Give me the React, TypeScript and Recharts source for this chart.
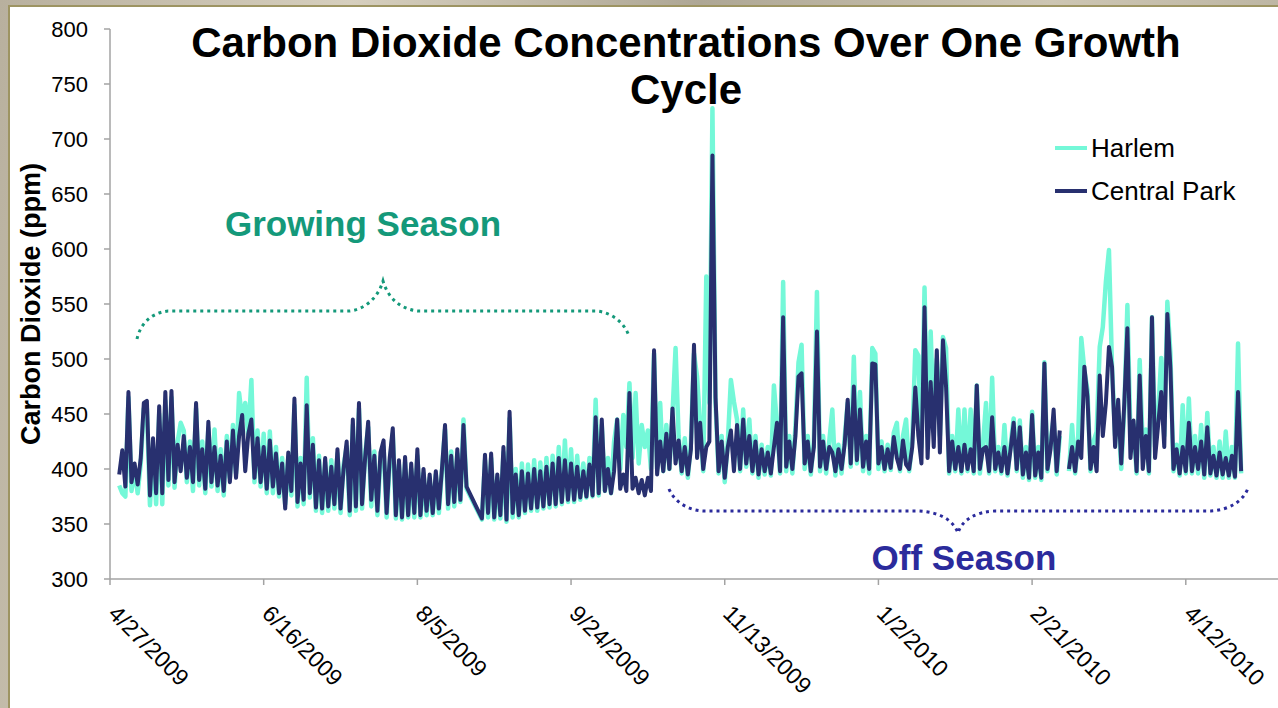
import React from "react";
import { LineChart, Line, XAxis, YAxis, Legend } from "recharts";

// Day index 0 = 4/27/2009 ; data runs daily from day 3 (4/30/2009) to day 368
const FIRST_DAY = 3;
const xTickDays = [0, 50, 100, 150, 200, 250, 300, 350];
const xTickLabels = ["4/27/2009", "6/16/2009", "8/5/2009", "9/24/2009", "11/13/2009", "1/2/2010", "2/21/2010", "4/12/2010"];
const yTicks = [300, 350, 400, 450, 500, 550, 600, 650, 700, 750, 800];
const legendOrder = ["Harlem", "Central Park"];
// days with no logged records (the line jumps straight across them)
const missingDays = [117, 118, 119, 120];

const centralPark: (number | null)[] = [
  395, 417, 384, 470, 388, 405, 386, 410, 460, 462,
  376, 428, 378, 457, 378, 470, 390, 471, 388, 422,
  398, 430, 392, 420, 388, 460, 390, 418, 382, 443,
  388, 420, 385, 412, 380, 425, 388, 435, 392, 430,
  449, 398, 432, 445, 392, 428, 388, 420, 382, 426,
  384, 414, 378, 405, 364, 415, 380, 464, 370, 405,
  372, 458, 378, 422, 365, 408, 364, 410, 366, 402,
  368, 418, 364, 400, 425, 362, 445, 366, 460, 368,
  410, 443, 372, 412, 362, 415, 426, 360, 410, 437,
  358, 408, 356, 411, 358, 405, 360, 418, 358, 400,
  362, 395, 360, 398, 364, 400, 440, 368, 412, 370,
  418, 372, 440, 384, null, null, null, null, 355, 413,
  360, 414, 356, 395, 358, 420, 354, 452, 360, 395,
  358, 398, 362, 396, 364, 400, 365, 398, 366, 402,
  368, 405, 368, 410, 370, 408, 372, 405, 372, 402,
  374, 398, 375, 404, 376, 447, 378, 445, 380, 400,
  378, 398, 445, 382, 395, 380, 469, 382, 392, 378,
  390, 376, 392, 380, 508, 395, 425, 398, 432, 400,
  455, 405, 426, 398, 420, 395, 418, 513, 410, 442,
  400, 420, 425, 685, 465, 398, 425, 392, 420, 435,
  398, 440, 400, 445, 405, 430, 398, 425, 395, 418,
  398, 415, 396, 420, 442, 398, 538, 402, 425, 400,
  430, 484, 487, 405, 425, 398, 420, 525, 402, 425,
  400, 420, 415, 398, 418, 400, 422, 463, 405, 475,
  408, 454, 402, 425, 400, 496, 495, 405, 420, 400,
  418, 401, 429, 410, 400, 426, 404, 400, 420, 474,
  430, 405, 547, 410, 479, 420, 508, 415, 517, 475,
  398, 425, 400, 420, 398, 422, 400, 418, 398, 476,
  400, 418, 420, 398, 447, 400, 415, 398, 420, 396,
  418, 442, 400, 438, 395, 415, 392, 449, 394, 415,
  392, 496, 400, 418, 454, 398, 435, null, null, 400,
  420, 398, 425, 410, 493, 466, 400, 420, 398, 485,
  430, 460, 511, 493, 420, 463, 405, 460, 528, 410,
  444, 398, 485, 400, 430, 398, 538, 410, 440, 470,
  420, 541, 492, 400, 418, 396, 420, 398, 442, 398,
  420, 400, 425, 395, 438, 396, 412, 394, 415, 395,
  410, 394, 412, 393, 470, 398,
];

const harlem: (number | null)[] = [
  385, 378, 375, 465, 380, 400, 378, 405, 455, 455,
  367, 420, 368, 450, 368, 462, 385, 465, 383, 425,
  442, 435, 388, 425, 380, 455, 385, 425, 378, 437,
  384, 436, 380, 418, 376, 430, 392, 440, 396, 469,
  445, 460, 430, 481, 388, 435, 384, 432, 378, 434,
  378, 420, 375, 410, 368, 410, 376, 458, 366, 410,
  368, 483, 374, 428, 362, 412, 360, 406, 362, 408,
  364, 414, 360, 404, 420, 358, 440, 362, 455, 364,
  414, 438, 366, 416, 358, 410, 420, 356, 405, 432,
  355, 404, 354, 406, 356, 400, 356, 412, 356, 396,
  358, 392, 358, 395, 360, 398, 436, 364, 416, 366,
  414, 370, 445, 382, null, null, null, null, 354, 408,
  356, 410, 354, 392, 355, 415, 352, 446, 356, 400,
  356, 405, 360, 404, 362, 408, 362, 406, 364, 410,
  365, 412, 366, 420, 368, 426, 370, 418, 370, 412,
  372, 405, 374, 410, 375, 463, 376, 440, 380, 410,
  378, 425, 445, 400, 449, 420, 478, 410, 469, 405,
  440, 420, 435, 400, 505, 400, 460, 398, 440, 400,
  450, 510, 430, 396, 428, 392, 424, 505, 484, 440,
  398, 575, 460, 728, 460, 396, 430, 388, 425, 481,
  461, 445, 398, 454, 402, 445, 396, 430, 392, 422,
  395, 420, 394, 476, 440, 396, 570, 398, 430, 396,
  438, 497, 513, 400, 430, 395, 425, 561, 398, 430,
  396, 425, 454, 394, 422, 396, 428, 460, 402, 502,
  405, 470, 398, 430, 396, 510, 505, 400, 425, 398,
  422, 399, 433, 442, 398, 430, 445, 398, 425, 508,
  503, 420, 565, 430, 525, 440, 500, 430, 520, 510,
  396, 430, 398, 454, 396, 454, 398, 454, 396, 476,
  396, 422, 460, 396, 483, 398, 420, 396, 440, 394,
  422, 446, 398, 444, 392, 420, 390, 452, 392, 420,
  390, 497, 398, 425, 446, 395, 430, null, null, 398,
  440, 396, 430, 519, 490, 472, 398, 425, 434, 511,
  529, 570, 599, 493, 430, 450, 400, 455, 549, 430,
  440, 396, 499, 420, 436, 396, 538, 420, 450, 501,
  430, 552, 505, 398, 422, 394, 458, 396, 464, 396,
  430, 396, 440, 392, 451, 394, 420, 392, 425, 392,
  434, 392, 420, 392, 514, 396,
];

const rows: { day: number; harlem: number | null; centralPark: number | null }[] = [];
for (let i = 0; i < centralPark.length; i++) {
  const day = FIRST_DAY + i;
  if (missingDays.includes(day)) continue;
  rows.push({ day, harlem: harlem[i], centralPark: centralPark[i] });
}

const FONT = "'Liberation Sans', Arial, Helvetica, sans-serif";
const HARLEM = "#74f8d8";
const CENTRAL = "#28306f";
const GREEN = "#14997a";
const NAVY = "#2b2b9c";
const AXIS = "#a3a3a3";

const XTick = (props: any) => {
  const { x, y, payload } = props;
  const idx = xTickDays.indexOf(payload.value);
  const label = idx >= 0 ? xTickLabels[idx] : String(payload.value);
  const px = x - 3;
  const py = y + 28;
  return (
    <text x={px} y={py} transform={`rotate(45 ${px} ${py})`} textAnchor="start" fontSize={23} fontFamily={FONT} fill="#000">
      {label}
    </text>
  );
};

const LegendContent = (props: any) => {
  const payload = [...(props.payload || [])].sort(
    (a: any, b: any) => legendOrder.indexOf(a.value) - legendOrder.indexOf(b.value)
  );
  return (
    <div style={{ fontFamily: FONT, fontSize: 26, color: "#000" }}>
      {payload.map((p: any, i: number) => (
        <div key={i} style={{ display: "flex", alignItems: "center", height: 43 }}>
          <div style={{ width: 32, height: 4, background: p.color, marginRight: 4 }} />
          <span style={{ lineHeight: "26px" }}>{p.value}</span>
        </div>
      ))}
    </div>
  );
};

export default function App() {
  return (
    <div
      style={{
        position: "absolute",
        left: 0,
        top: 0,
        width: 1278,
        height: 708,
        overflow: "hidden",
        background: "linear-gradient(100deg, #b8b09e 0%, #d6cfbe 25%, #aea795 50%, #cdc6b3 75%, #b5ae9c 100%)",
      }}
    >
      <div
        style={{
          position: "absolute",
          left: 8,
          top: 5,
          right: 0,
          bottom: 0,
          background: "#ffffff",
          borderLeft: "2px solid #9d9462",
          borderTop: "2px solid #9d9462",
        }}
      />
      <div style={{ position: "absolute", left: 0, top: 0 }}>
        <LineChart width={1278} height={708} data={rows} margin={{ top: 29, right: 0, left: 50, bottom: 29 }}>
          <XAxis
            dataKey="day"
            type="number"
            domain={[0, 380]}
            ticks={xTickDays}
            interval={0}
            height={100}
            tick={<XTick />}
            tickSize={6}
            tickLine={{ stroke: AXIS, strokeWidth: 1.5 }}
            axisLine={{ stroke: AXIS, strokeWidth: 1.5 }}
          />
          <YAxis
            type="number"
            domain={[300, 800]}
            ticks={yTicks}
            interval={0}
            width={60}
            tickSize={6}
            tickMargin={16}
            tick={{ fontSize: 22, fontFamily: FONT, fill: "#000" }}
            tickLine={{ stroke: AXIS, strokeWidth: 1.5 }}
            axisLine={{ stroke: AXIS, strokeWidth: 1.5 }}
          />
          <Legend
            layout="vertical"
            align="center"
            verticalAlign="middle"
            content={<LegendContent />}
            wrapperStyle={{ left: 1055, top: 126, width: 200 }}
          />
          <Line
            name="Harlem"
            dataKey="harlem"
            type="linear"
            stroke={HARLEM}
            strokeWidth={4.5}
            strokeLinejoin="round"
            dot={false}
            activeDot={false}
            connectNulls={false}
            isAnimationActive={false}
          />
          <Line
            name="Central Park"
            dataKey="centralPark"
            type="linear"
            stroke={CENTRAL}
            strokeWidth={4}
            strokeLinejoin="round"
            dot={false}
            activeDot={false}
            connectNulls={false}
            isAnimationActive={false}
          />
        </LineChart>
      </div>
      <svg width={1278} height={708} style={{ position: "absolute", left: 0, top: 0, pointerEvents: "none" }}>
        <text x={686} y={57} textAnchor="middle" fontSize={42} fontWeight="bold" fontFamily={FONT} fill="#000">
          Carbon Dioxide Concentrations Over One Growth
        </text>
        <text x={686} y={104} textAnchor="middle" fontSize={42} fontWeight="bold" fontFamily={FONT} fill="#000">
          Cycle
        </text>
        <text transform="translate(40,304) rotate(-90)" textAnchor="middle" fontSize={27} fontWeight="bold" fontFamily={FONT} fill="#000">
          Carbon Dioxide (ppm)
        </text>
        <text x={363} y={236} textAnchor="middle" fontSize={35} fontWeight="bold" fontFamily={FONT} fill={GREEN}>
          Growing Season
        </text>
        <path
          d="M137 339 C 140 325, 150 313, 168 311 L 350 311 C 365 309, 378 298, 383 281 C 388 298, 400 309, 418 311 L 597 311 C 612 313, 624 322, 629 336"
          fill="none"
          stroke={GREEN}
          strokeWidth={3}
          strokeDasharray="3 4"
        />
        <text x={964} y={570} textAnchor="middle" fontSize={35} fontWeight="bold" fontFamily={FONT} fill={NAVY}>
          Off Season
        </text>
        <path
          d="M669 489 C 675 503, 690 511, 705 511 L 918 511 C 940 512, 953 520, 958 533 C 962 520, 975 512, 995 511 L 1211 511 C 1230 510, 1244 500, 1248 488"
          fill="none"
          stroke={NAVY}
          strokeWidth={3}
          strokeDasharray="3 4"
        />
      </svg>
    </div>
  );
}
